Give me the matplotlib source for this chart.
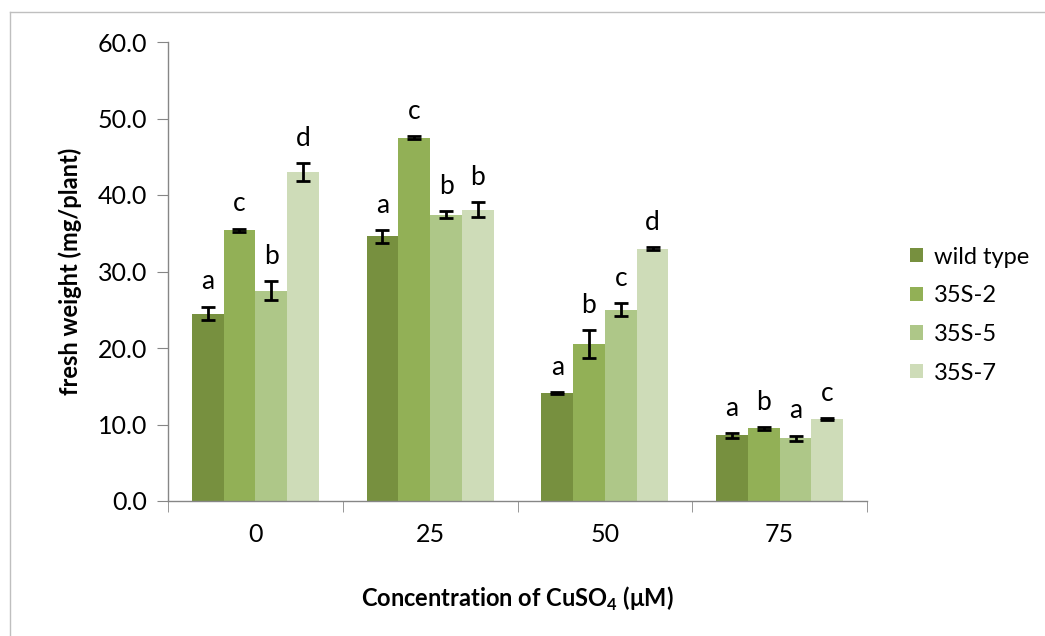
import numpy as np
import matplotlib.pyplot as plt
from matplotlib.lines import Line2D

concentrations = ["0", "25", "50", "75"]
lines = ["wild type", "35S-2", "35S-5", "35S-7"]
colors = ["#77903F", "#92B056", "#AEC788", "#CEDCB8"]

# fresh weight (mg/plant), one list per line, in order of concentration
wild_type = [24.5, 34.6, 14.1, 8.6]
s35_2 = [35.4, 47.5, 20.5, 9.5]
s35_5 = [27.5, 37.4, 25.0, 8.2]
s35_7 = [43.0, 38.1, 33.0, 10.7]

err_wild_type = [0.9, 0.85, 0.1, 0.3]
err_35_2 = [0.2, 0.2, 1.8, 0.2]
err_35_5 = [1.2, 0.45, 0.85, 0.35]
err_35_7 = [1.2, 1.0, 0.2, 0.15]

letters_wild_type = ["a", "a", "a", "a"]
letters_35_2 = ["c", "c", "b", "b"]
letters_35_5 = ["b", "b", "c", "a"]
letters_35_7 = ["d", "b", "d", "c"]

values = [wild_type, s35_2, s35_5, s35_7]
errors = [err_wild_type, err_35_2, err_35_5, err_35_7]
letters = [letters_wild_type, letters_35_2, letters_35_5, letters_35_7]

plt.rcParams['font.family'] = ['Lato', 'DejaVu Sans']

fig = plt.figure(figsize=(10.45, 6.36), dpi=100)
ax = fig.add_axes([168 / 1045, 1 - 501 / 636, (867 - 168) / 1045, (501 - 42) / 636])

n = len(lines)
width = 1 / (n + 1.5)
x = np.arange(len(concentrations))
for i in range(n):
    pos = x + (i - (n - 1) / 2) * width
    ax.bar(pos, values[i], width, color=colors[i], label=lines[i], zorder=2)
    ax.errorbar(pos, values[i], yerr=errors[i], fmt='none', ecolor='black',
                elinewidth=2, capsize=5, capthick=2, zorder=3)
    for p, v, e, t in zip(pos, values[i], errors[i], letters[i]):
        ax.text(p, v + e + 1.6, t, ha='center', va='bottom', fontsize=19)

ax.set_xlim(-0.5, len(concentrations) - 0.5)
ax.set_ylim(0, 60)
ax.set_yticks(np.arange(0, 61, 10))
ax.set_yticklabels([f"{v:.1f}" for v in np.arange(0, 61, 10)], fontsize=18)
ax.set_xticks(x)
ax.set_xticklabels(concentrations, fontsize=18)
ax.set_xticks(np.arange(-0.5, len(concentrations), 1), minor=True)
ax.tick_params(axis='x', which='major', length=0, pad=16)
ax.tick_params(axis='x', which='minor', length=8, color='#868686')
ax.tick_params(axis='y', length=8, color='#868686', pad=7)
for side in ['top', 'right']:
    ax.spines[side].set_visible(False)
for side in ['left', 'bottom']:
    ax.spines[side].set_color('#868686')
    ax.spines[side].set_linewidth(1)

ax.set_ylabel("fresh weight (mg/plant)", fontsize=17, fontweight='bold', labelpad=11)
ax.set_xlabel(r"Concentration of CuSO$_\mathregular{4}$ ($\mathregular{\mu}$M)",
              fontsize=17, fontweight='bold', labelpad=28)

leg = ax.legend(loc='center left', bbox_to_anchor=(1.0615, 0.405), frameon=False,
                fontsize=17, handlelength=0.55, handleheight=0.55, handletextpad=0.45,
                labelspacing=0.75, borderaxespad=0, borderpad=0)

# light chart-area border on the left and top
fig.add_artist(Line2D([10 / 1045, 10 / 1045], [0, 1 - 12 / 636], color='#BFBFBF', lw=1))
fig.add_artist(Line2D([10 / 1045, 1], [1 - 12 / 636, 1 - 12 / 636], color='#BFBFBF', lw=1))

fig.savefig("out.png", dpi=100)
